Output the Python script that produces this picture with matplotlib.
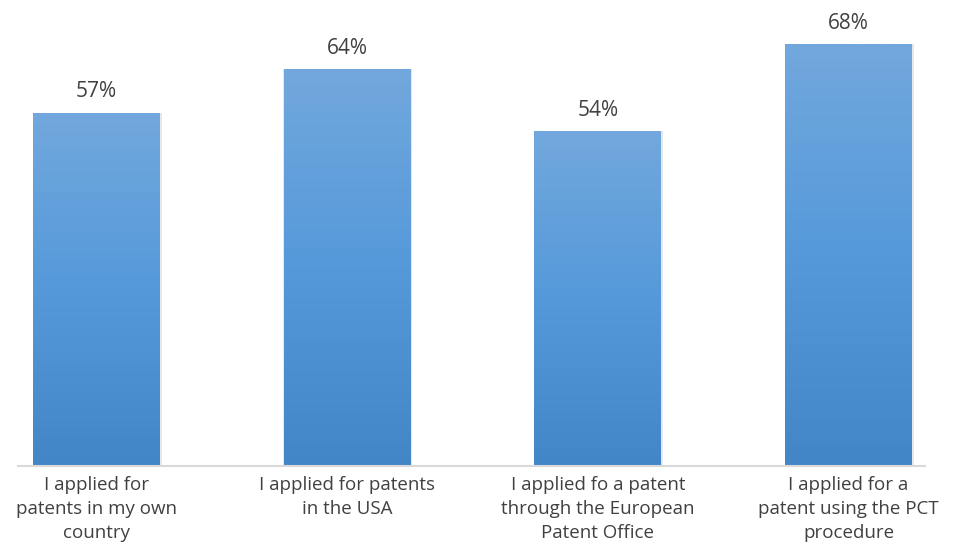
import numpy as np
import matplotlib.pyplot as plt
from matplotlib.colors import LinearSegmentedColormap

categories = [
    "I applied for\npatents in my own\ncountry",
    "I applied for patents\nin the USA",
    "I applied fo a patent\nthrough the European\nPatent Office",
    "I applied for a\npatent using the PCT\nprocedure",
]
shares = [0.57, 0.64, 0.54, 0.68]

plt.rcParams['font.family'] = ['Open Sans', 'DejaVu Sans']
text_color = '#404040'

fig = plt.figure(figsize=(9.6, 5.42), dpi=100)
ax = fig.add_axes([18 / 960, 76 / 542, 907 / 960, 434 / 542])

x = np.arange(len(categories))
bars = ax.bar(x, shares, width=0.506, color='#5799d8', zorder=2)

# vertical gradient fill on each bar, light at the top
grad = LinearSegmentedColormap.from_list('bluegrad', ['#4386c7', '#5599da', '#72a8dd'])
g = np.linspace(0, 1, 256).reshape(-1, 1)
for b in bars:
    x0, w, h = b.get_x(), b.get_width(), b.get_height()
    # faint shadow
    ax.bar(x0 + w / 2 + 0.003, h, width=w + 0.008, color='#d0d0d0', alpha=0.5, zorder=1)
    im = ax.imshow(g, cmap=grad, origin='lower', aspect='auto',
                   extent=[x0, x0 + w, 0, h], zorder=3)
    im.set_clip_path(b)
    ax.text(x0 + w / 2, h + 0.017, f"{h * 100:.0f}%", ha='center', va='bottom',
            fontsize=15, color=text_color)

ax.set_xlim(-0.313, 3.305)
ax.set_ylim(0, 0.70)
ax.set_xticks(x)
ax.set_xticklabels(categories, fontsize=13.5, color=text_color, linespacing=1.45)
ax.tick_params(axis='x', length=0, pad=7)
ax.set_yticks([])
for side in ['top', 'right', 'left']:
    ax.spines[side].set_visible(False)
ax.spines['bottom'].set_color('#d9d9d9')
ax.spines['bottom'].set_linewidth(1.5)
ax.spines['bottom'].set_zorder(4)

fig.savefig('out.png', dpi=100)
